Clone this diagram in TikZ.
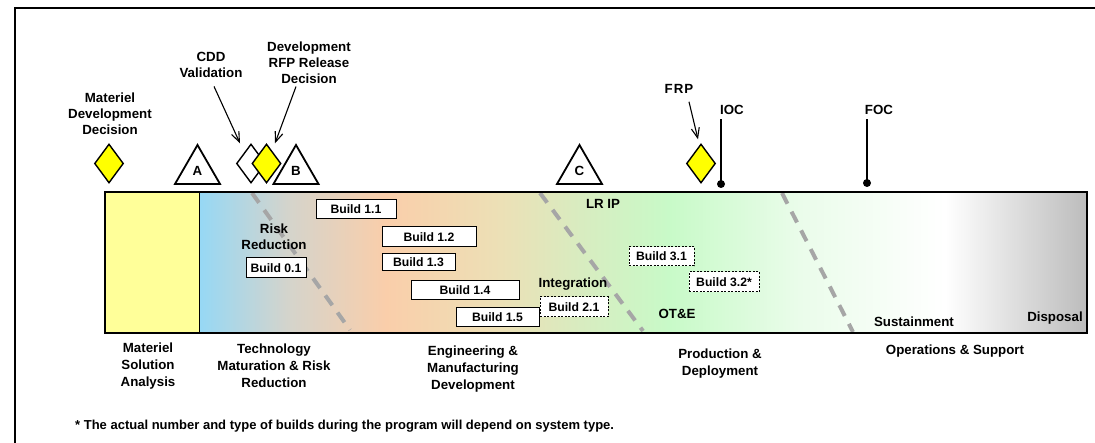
\documentclass[tikz,border=0pt]{standalone}
\usepackage{fontspec}
\setmainfont{Liberation Sans}
\usetikzlibrary{shapes.geometric,arrows.meta}

\definecolor{msayellow}{RGB}{255,255,153}
\definecolor{msyellow}{RGB}{255,255,0}
\definecolor{tmblue}{RGB}{150,216,245}
\definecolor{tmgray}{RGB}{212,212,204}
\definecolor{emdpeach}{RGB}{250,206,170}
\definecolor{emdtan}{RGB}{236,224,182}
\definecolor{pdlime}{RGB}{216,236,192}
\definecolor{pdgreen}{RGB}{200,250,200}
\definecolor{ospale}{RGB}{234,252,234}
\definecolor{osgray}{RGB}{188,188,188}
\definecolor{dashgray}{RGB}{166,166,166}

\pgfdeclarehorizontalshading{phases}{100bp}{color(0bp)=(tmblue); color(25bp)=(tmblue); color(30bp)=(tmgray); color(35.5bp)=(emdpeach); color(42bp)=(emdtan); color(46.5bp)=(pdlime); color(51.5bp)=(pdgreen); color(58.8bp)=(ospale); color(67bp)=(white); color(75bp)=(osgray); color(100bp)=(osgray)}

\begin{document}
\begin{tikzpicture}[x=1pt,y=-1pt,
    lbl/.style={font=\bfseries\fontsize{13.3}{16}\selectfont, align=center, inner sep=0pt},
    phase/.style={lbl, font=\bfseries\fontsize{13.3}{17}\selectfont},
    buildbox/.style={draw, line width=1pt, fill=white, font=\bfseries\fontsize{12.2}{14}\selectfont, inner sep=0pt, minimum height=19pt},
    plannedbox/.style={buildbox, dash pattern=on 2pt off 1.5pt},
    decision/.style={diamond, draw, line width=1.4pt, fill=msyellow, minimum width=29pt, minimum height=39pt, inner sep=0pt},
    review/.style={regular polygon, regular polygon sides=3, draw, line width=1.8pt, fill=white, minimum size=52pt, inner sep=0pt, font=\bfseries\fontsize{13.3}{16}\selectfont},
    pointer/.style={-{Straight Barb[length=10pt,width=8pt]}, line width=1.1pt},
    dot/.style={circle, fill=black, minimum size=8pt, inner sep=0pt},
    phaseedge/.style={dashgray, line width=4pt, dash pattern=on 12pt off 9pt}
  ]
  \useasboundingbox (0,0) rectangle (1095,443);
  \draw[line width=2pt] (1100,8) -- (15,8) -- (15,450);

  \fill[msayellow] (105,192) rectangle (199,333);
  \fill[shading=phases] (199,192) rectangle (1087,333);
  \draw[line width=0.8pt] (199,192) -- (199,333);
  \draw[phaseedge] (252,193) -- (350,330);
  \draw[phaseedge] (540,193) -- (643,331);
  \draw[phaseedge] (782,193) -- (853,332);
  \draw[line width=1.5pt] (105,192) rectangle (1087,333);

  \node[lbl] (mddlabel) at (110,113.5) {Materiel\\Development\\Decision};
  \node[lbl] (cddlabel) at (211,64.5) {CDD\\Validation};
  \node[lbl] (rfplabel) at (309,62.5) {Development\\RFP Release\\Decision};
  \node[lbl] (frplabel) at (679,89) {F\kern1pt R\kern1pt P};
  \node[lbl] (ioc) at (732,110) {IOC};
  \node[lbl] (foc) at (879,110) {FOC};

  \node[decision] (mdd) at (109,163.5) {};
  \node[review] (msa) at (197.5,171) {A};
  \node[decision, fill=white] (cddv) at (251,163.5) {};
  \node[decision] (rfpd) at (266.5,163.5) {};
  \node[review] (msb) at (296,171) {B};
  \node[review] (msc) at (579.5,171) {C};
  \node[decision] (frpd) at (701,163.5) {};
  \node[dot] (iocdot) at (721,184) {};
  \node[dot] (focdot) at (867,183) {};

  \draw[pointer] ([xshift=3pt,yshift=-9pt]cddlabel.south) -- ([xshift=-11pt]cddv.north);
  \draw[pointer] ([xshift=-13pt,yshift=-3pt]rfplabel.south) -- ([xshift=8.5pt]rfpd.north);
  \draw[pointer] ([xshift=10pt,yshift=-8pt]frplabel.south) -- ([xshift=-3pt,yshift=4pt]frpd.north);
  \draw[line width=1.2pt, shorten >=4pt] (iocdot.center) -- (iocdot |- ioc.south);
  \draw[line width=1.2pt, shorten >=4pt] (focdot.center) -- (focdot |- foc.south);

  \node[lbl] (risk) at (274,237) {Risk\\Reduction};
  \node[lbl] (lrip) at (603,204) {LR IP};
  \node[lbl] (integ) at (573,284) {Integration};
  \node[lbl] (ote) at (677,314) {OT\&E};
  \node[lbl] (sust) at (914,322) {Sustainment};
  \node[lbl] (disp) at (1055,318) {Disposal};

  \node[buildbox, minimum width=60pt, minimum height=20pt] (b01) at (276,268) {Build 0.1};
  \node[buildbox, minimum width=80pt] (b11) at (356,209.5) {Build 1.1};
  \node[buildbox, minimum width=94pt, minimum height=20pt] (b12) at (429,237) {Build 1.2};
  \node[buildbox, minimum width=73pt, minimum height=17pt] (b13) at (418.5,262.5) {Build 1.3};
  \node[buildbox, minimum width=108pt] (b14) at (465,290.5) {Build 1.4};
  \node[buildbox, minimum width=83pt] (b15) at (497.5,317.5) {Build 1.5};
  \node[plannedbox, minimum width=68pt, minimum height=20pt] (b21) at (574,307) {Build 2.1};
  \node[plannedbox, minimum width=65pt] (b31) at (661.5,256.5) {Build 3.1};
  \node[plannedbox, minimum width=70pt, minimum height=20pt] (b32) at (724,282) {Build 3.2*};

  \node[phase] (msaphase) at (148,366) {Materiel\\Solution\\Analysis};
  \node[phase] (tmrr) at (274,366) {Technology\\Maturation \& Risk\\Reduction};
  \node[phase] (emd) at (473,369) {Engineering \&\\Manufacturing\\Development};
  \node[phase] (pd) at (720,364) {Production \&\\Deployment};
  \node[phase] (os) at (955,351) {Operations \& Support};

  \node[lbl, anchor=west, font=\bfseries\fontsize{13}{16}\selectfont] (note) at (75,426) {* The actual number and type of builds during the program will depend on system type.};
\end{tikzpicture}
\end{document}
